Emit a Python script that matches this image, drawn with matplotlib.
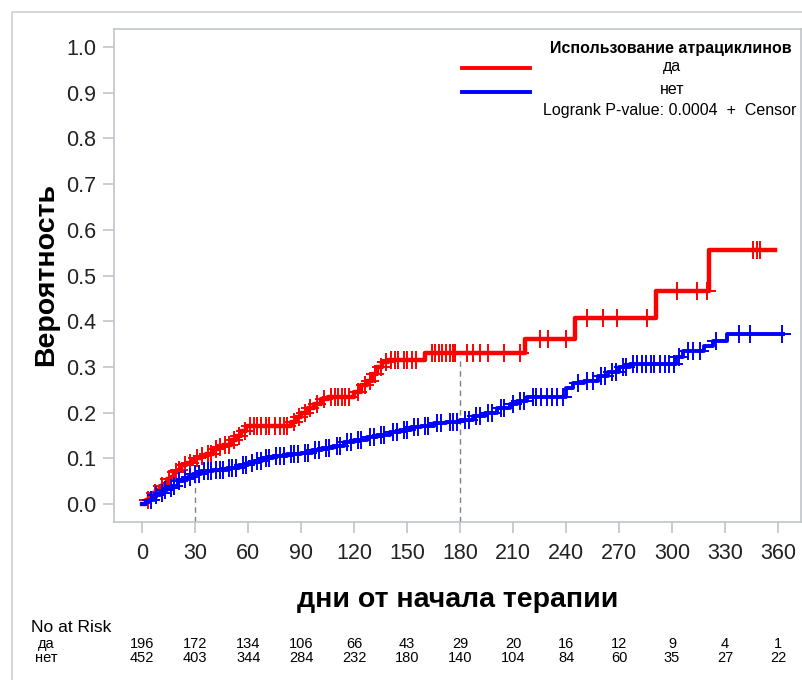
import numpy as np
import matplotlib
matplotlib.use("Agg")
import matplotlib.pyplot as plt
from matplotlib.lines import Line2D
from matplotlib.patches import Rectangle

plt.rcParams['font.family'] = ['Liberation Sans', 'DejaVu Sans']

# step curves: event times (days) and cumulative probability after each step
red_t = [0, 2, 4, 6, 8, 10, 12, 14, 16, 18, 20, 22, 25, 28, 30, 33, 36, 40, 43, 46,
         50, 53, 56, 59, 84, 87, 90, 94, 97, 101, 105, 120, 124, 127, 130, 133, 136,
         139, 160, 217, 245, 291, 321]
red_p = [0.0, 0.01, 0.02, 0.025, 0.03, 0.04, 0.045, 0.055, 0.06, 0.07, 0.075, 0.085,
         0.09, 0.095, 0.10, 0.105, 0.11, 0.12, 0.125, 0.13, 0.14, 0.15, 0.16, 0.17,
         0.18, 0.19, 0.20, 0.21, 0.22, 0.23, 0.235, 0.245, 0.26, 0.27, 0.285, 0.30,
         0.31, 0.315, 0.33, 0.362, 0.406, 0.467, 0.555]
red_end = 358

blue_t = [0, 2, 4, 6, 8, 10, 12, 14, 17, 20, 23, 26, 29, 33, 40, 48, 55, 60, 63, 68,
          74, 82, 90, 96, 102, 108, 114, 120, 127, 133, 140, 146, 152, 158, 165, 172,
          180, 187, 194, 201, 208, 212, 218, 240, 244, 250, 258, 264, 270, 276, 302,
          306, 318, 323, 331]
blue_p = [0.0, 0.005, 0.01, 0.015, 0.02, 0.025, 0.03, 0.035, 0.04, 0.05, 0.055, 0.06,
          0.065, 0.072, 0.075, 0.08, 0.085, 0.09, 0.095, 0.1, 0.105, 0.11, 0.112,
          0.118, 0.123, 0.128, 0.135, 0.14, 0.147, 0.152, 0.158, 0.163, 0.168, 0.172,
          0.177, 0.18, 0.185, 0.193, 0.2, 0.21, 0.218, 0.226, 0.234, 0.255, 0.264,
          0.27, 0.28, 0.29, 0.3, 0.307, 0.322, 0.336, 0.345, 0.357, 0.373]
blue_end = 363

# censored observations (days)
red_cens = [3, 7, 11, 15, 19, 21, 24, 27, 31, 34, 37, 39, 42, 44, 47, 49, 52, 55, 58,
            61, 63, 65, 67, 70, 72, 75, 78, 80, 82, 86, 89, 92, 95, 99, 103, 107, 109,
            111, 113, 115, 117, 122, 126, 129, 132, 135, 138, 141, 143, 145, 148, 150,
            153, 155, 164, 166, 168, 170, 172, 174, 176, 177, 184, 187, 191, 196, 205,
            214, 225, 230, 240, 252, 261, 269, 286, 303, 314, 320, 346, 348, 350]
blue_cens = [5, 8, 11, 13, 16, 18, 21, 24, 27, 30, 32, 35, 37, 39, 42, 44, 46, 49, 51,
             53, 57, 59, 62, 65, 67, 70, 72, 76, 78, 80, 84, 86, 88, 92, 94, 98, 100,
             104, 106, 110, 112, 116, 118, 122, 124, 129, 131, 135, 137, 142, 144, 148,
             150, 154, 156, 160, 162, 167, 169, 174, 176, 178, 183, 185, 189, 191, 196,
             198, 203, 205, 210, 214, 216, 221, 223, 226, 229, 232, 235, 238, 247, 252,
             255, 260, 262, 266, 268, 272, 274, 278, 280, 283, 285, 288, 290, 293, 296,
             298, 301, 304, 309, 312, 316, 325, 338, 344, 362]

# reference lines (day, top of dashed line)
ref_days = [30, 180]
ref_tops = [0.075, 0.325]

# number at risk
risk_days = [0, 30, 60, 90, 120, 150, 180, 210, 240, 270, 300, 330, 360]
risk_yes = [196, 172, 134, 106, 66, 43, 29, 20, 16, 12, 9, 4, 1]
risk_no = [452, 403, 344, 284, 232, 180, 140, 104, 84, 60, 35, 27, 22]

W, H = 803, 680
fig = plt.figure(figsize=(W / 100, H / 100), dpi=100)
ax = fig.add_axes([114 / W, 1 - 522 / H, (801 - 114) / W, (522 - 29) / H])

# outer frame
fig.patches.append(Rectangle((12 / W, -0.1), 1.2, 1 - 12 / H + 0.1, transform=fig.transFigure,
                             fill=False, edgecolor='#d0d0d0', linewidth=1.2))


def step_at(t, p, x):
    i = np.searchsorted(t, x, side='right') - 1
    return np.asarray(p)[np.clip(i, 0, len(p) - 1)]


for t, p, end, cens, col, lw in [(red_t, red_p, red_end, red_cens, '#ff0000', 3.2),
                                 (blue_t, blue_p, blue_end, blue_cens, '#0000ff', 2.8)]:
    ax.step(t + [end], p + [p[-1]], where='post', color=col, linewidth=lw, zorder=3)
    ax.plot(cens, step_at(t, p, cens), linestyle='none', marker='+', markersize=13,
            markeredgewidth=1.4, color=col, zorder=3)

for d, top in zip(ref_days, ref_tops):
    ax.plot([d, d], [-0.04, top], color='#808080', linestyle=(0, (4, 3)), linewidth=1.0, zorder=2)

ax.set_xlim(-16, 373)
ax.set_ylim(-0.039, 1.039)
ax.set_xticks(risk_days)
ax.set_yticks(np.arange(0, 1.01, 0.1))
ax.set_yticklabels([f'{v:.1f}' for v in np.arange(0, 1.01, 0.1)])
for s in ax.spines.values():
    s.set_color('#c0c4c8')
    s.set_linewidth(1.2)
ax.tick_params(axis='both', colors='#c0c4c8', labelcolor='#222222', labelsize=15.5,
               length=8, width=1.2)
ax.tick_params(axis='x', pad=7)
ax.tick_params(axis='y', pad=5)

fig.text(46 / W, 1 - 275 / H, 'Вероятность', rotation=90, ha='center', va='center',
         fontsize=20.5, fontweight='bold')
fig.text(458 / W, 1 - 600 / H, 'дни от начала терапии', ha='center', va='center',
         fontsize=20.5, fontweight='bold')

# legend
fig.text(671 / W, 1 - 48 / H, 'Использование атрациклинов', ha='center', va='center',
         fontsize=11.5, fontweight='bold')
fig.text(672 / W, 1 - 67 / H, 'да', ha='center', va='center', fontsize=11.5)
fig.text(672 / W, 1 - 89 / H, 'нет', ha='center', va='center', fontsize=11.5)
fig.text(670 / W, 1 - 111 / H, 'Logrank P-value: 0.0004  +  Censor', ha='center',
         va='center', fontsize=11.5)
fig.lines.append(Line2D([462 / W, 530 / W], [1 - 68 / H] * 2, transform=fig.transFigure,
                        color='#ff0000', linewidth=2.8))
fig.lines.append(Line2D([462 / W, 530 / W], [1 - 92 / H] * 2, transform=fig.transFigure,
                        color='#0000ff', linewidth=2.8))

# number at risk table
fig.text(31 / W, 1 - 627 / H, 'No at Risk', ha='left', va='center', fontsize=12.5)
fig.text(46 / W, 1 - 644 / H, 'да', ha='center', va='center', fontsize=10.5)
fig.text(46 / W, 1 - 658 / H, 'нет', ha='center', va='center', fontsize=10.5)
xfig = lambda d: fig.transFigure.inverted().transform(ax.transData.transform((d, 0)))[0]
for d, a, b in zip(risk_days, risk_yes, risk_no):
    fig.text(xfig(d), 1 - 644 / H, str(a), ha='center', va='center', fontsize=10.5)
    fig.text(xfig(d), 1 - 658 / H, str(b), ha='center', va='center', fontsize=10.5)

fig.savefig('out.png', dpi=100)
